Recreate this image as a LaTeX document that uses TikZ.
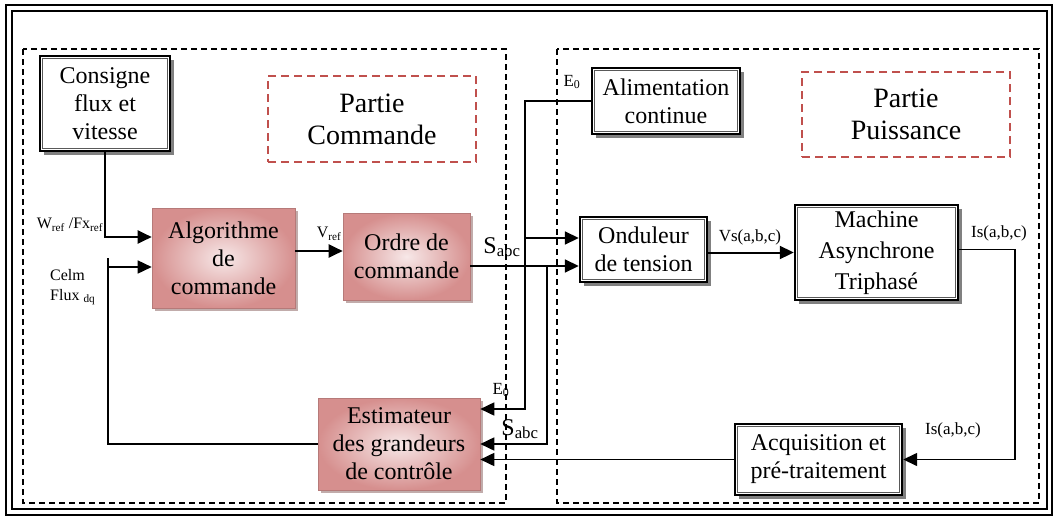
\documentclass[tikz,border=0pt]{standalone}
\usepackage{fontspec}
\setmainfont{Liberation Serif}
\usetikzlibrary{arrows.meta,shadows}
\definecolor{pinkdark}{HTML}{D68F8E}
\definecolor{pinklight}{HTML}{F7E8E8}
\definecolor{partred}{HTML}{C0504D}
\tikzset{
  blk/.style={draw, line width=2.4pt, fill=white, align=center, inner sep=0pt,
    drop shadow={shadow xshift=3.5pt, shadow yshift=-3.5pt, fill=black!50, opacity=1},
    font=\fontsize{24}{28}\selectfont},
  pnk/.style={draw=pinkdark!85!black, line width=0.6pt, align=center, inner sep=0pt,
    inner color=pinklight, outer color=pinkdark,
    drop shadow={shadow xshift=3pt, shadow yshift=-3pt, fill=pinkdark!60!black!70, opacity=0.7},
    font=\fontsize{24}{28}\selectfont},
  partbox/.style={draw=partred, dash pattern=on 8pt off 5pt, line width=2pt, align=center,
    inner sep=0pt, font=\fontsize{28}{32}\selectfont},
  zone/.style={dash pattern=on 6pt off 4pt, line width=1.3pt},
  lbl/.style={font=\fontsize{17}{19}\selectfont, inner sep=0pt, align=left},
  arr/.style={line width=2pt, -{Triangle[length=14pt,width=13pt]}},
}
\begin{document}
\begin{tikzpicture}[x=1pt,y=-1pt]
  \useasboundingbox (0,0) rectangle (1053,517);
  \draw[line width=2pt] (6,5) rectangle (1052,515);
  \draw[line width=1.2pt] (12,11) rectangle (1047,509);
  \draw[zone] (23,49) rectangle (506,503);
  \draw[zone] (557,49) rectangle (1039,503);

  \node[partbox, minimum width=208pt, minimum height=86pt] (pc) at (372,119) {Partie\\Commande};
  \node[partbox, minimum width=208pt, minimum height=85pt] (pp) at (906,114.5) {Partie\\Puissance};

  \node[blk, minimum width=130pt, minimum height=95pt] (cons) at (105,103.5) {Consigne\\flux et\\vitesse};
  \node[blk, minimum width=148pt, minimum height=66pt] (alim) at (666,101) {Alimentation\\continue};
  \node[blk, minimum width=127pt, minimum height=65pt] (ond) at (643.5,249.5) {Onduleur\\de tension};
  \node[blk, minimum width=163pt, minimum height=95pt, font=\fontsize{24}{31}\selectfont] (mas) at (876.5,252.5) {Machine\\Asynchrone\\Triphasé};
  \node[blk, minimum width=167pt, minimum height=71pt] (acq) at (818.5,459.5) {Acquisition et\\pré-traitement};
  \foreach \b in {cons,alim,ond,mas,acq}
    \draw[black!65, line width=0.8pt] ([shift={(3.4pt,-3.4pt)}]\b.north west) rectangle ([shift={(-3.4pt,3.4pt)}]\b.south east);

  \node[pnk, minimum width=143pt, minimum height=100pt] (algo) at (223.5,258) {Algorithme\\de\\commande};
  \node[pnk, minimum width=127pt, minimum height=87pt] (ordre) at (406.5,256.5) {Ordre de\\commande};
  \node[pnk, minimum width=162pt, minimum height=92pt] (est) at (399,444) {Estimateur\\des grandeurs\\de contrôle};

  \coordinate (e0) at (525,238);
  \coordinate (sb) at (547,266);
  \coordinate (fb) at (108,0);
  \coordinate (ic) at (1015,0);

  \draw[arr] (cons.south) |- ([yshift=21pt]algo.west);
  \draw[arr, line width=1.6pt] (est.west) -| (fb |- algo.west) |- ([yshift=-9pt]algo.west);
  \draw[arr] ([yshift=7pt]algo.east) -- ([yshift=7pt]algo.east -| ordre.west);
  \draw[arr, line width=1.7pt] ([yshift=-9.5pt]ordre.east) -- (sb -| ond.west);
  \draw[arr, line width=1.7pt] (alim.west) -| (e0) |- ([yshift=35pt]est.east);
  \draw[arr, line width=1.7pt] (e0) -- (e0 -| ond.west);
  \draw[arr, line width=1.7pt] (sb) |- (est.east);
  \draw[arr] (ond.east |- mas.west) -- (mas.west);
  \draw[arr, line width=1.5pt] ([yshift=3pt]mas.east) -| (ic |- acq.east) -- (acq.east);
  \draw[arr, line width=1.7pt] (acq.west) -- (acq.west -| est.east);

  \node[lbl, font=\fontsize{16}{18}\selectfont] (lw) at (70,225) {W\textsubscript{ref} /Fx\textsubscript{ref}};
  \node[lbl, font=\fontsize{16}{20}\selectfont, anchor=west] (lc) at (50,287) {Celm\\Flux \textsubscript{dq}};
  \node[lbl, font=\fontsize{16}{18}\selectfont] (lv) at (329,234) {V\textsubscript{ref}};
  \node[lbl, font=\fontsize{24}{26}\selectfont] (ls1) at (502,247) {S\textsubscript{abc}};
  \node[lbl, font=\fontsize{24}{26}\selectfont] (ls2) at (520,429) {S\textsubscript{abc}};
  \node[lbl] (le1) at (572,82) {E\textsubscript{0}};
  \node[lbl] (le2) at (501,390) {E\textsubscript{0}};
  \node[lbl] (lvs) at (750,237) {Vs(a,b,c)};
  \node[lbl] (li1) at (999,233) {Is(a,b,c)};
  \node[lbl] (li2) at (953,430) {Is(a,b,c)};
\end{tikzpicture}
\end{document}
